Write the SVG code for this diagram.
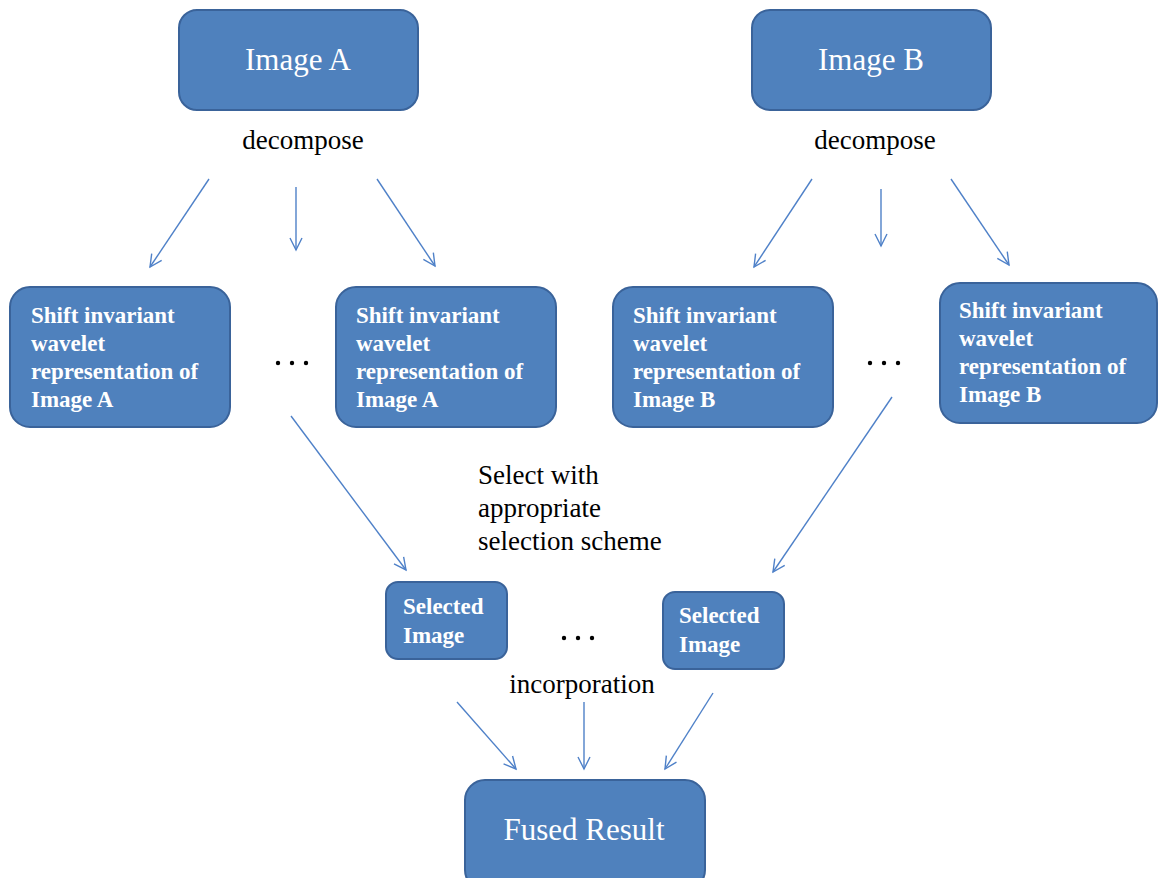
<svg xmlns="http://www.w3.org/2000/svg" width="1158" height="878" viewBox="0 0 1158 878">
<defs>
<style>
.box{fill:#4f81bd;stroke:#3a639a;stroke-width:2}
.big{font-family:"Liberation Serif","Times New Roman",serif;font-size:31px;fill:#fff;text-anchor:middle}
.wt{font-family:"Liberation Serif","Times New Roman",serif;font-size:23px;font-weight:bold;fill:#fff}
.lbl{font-family:"Liberation Serif","Times New Roman",serif;font-size:27px;fill:#000}
.conn{fill:none;stroke:#4f81c8;stroke-width:1.4;marker-end:url(#ah)}
.dot{fill:#000}
</style>
<marker id="ah" markerWidth="16" markerHeight="16" viewBox="-14 -8 16 16" refX="0" refY="0" orient="auto" markerUnits="userSpaceOnUse">
<path d="M-12,-6 L0,0 L-12,6" fill="none" stroke="#4f81c8" stroke-width="1.4"/>
</marker>
</defs>
<rect width="1158" height="878" fill="#fff"/>

<g id="connectors">
<line class="conn" x1="209" y1="179" x2="150" y2="267"/>
<line class="conn" x1="296" y1="187" x2="296" y2="250"/>
<line class="conn" x1="377" y1="179" x2="435" y2="266"/>
<line class="conn" x1="812" y1="179" x2="754" y2="267"/>
<line class="conn" x1="881" y1="189" x2="881" y2="246"/>
<line class="conn" x1="951" y1="179" x2="1009" y2="265"/>
<line class="conn" x1="291" y1="416" x2="406" y2="570"/>
<line class="conn" x1="892" y1="397" x2="773" y2="572"/>
<line class="conn" x1="457" y1="702" x2="516" y2="769"/>
<line class="conn" x1="584" y1="702" x2="584" y2="769"/>
<line class="conn" x1="713" y1="693" x2="665" y2="769"/>
</g>

<g id="imageA">
<rect class="box" x="179" y="10" width="239" height="100" rx="18"/>
<text class="big" x="298" y="70">Image A</text>
</g>
<g id="imageB">
<rect class="box" x="752" y="10" width="239" height="100" rx="18"/>
<text class="big" x="871" y="70">Image B</text>
</g>

<g id="label-decompose-A"><text class="lbl" x="303" y="149" text-anchor="middle">decompose</text></g>
<g id="label-decompose-B"><text class="lbl" x="875" y="149" text-anchor="middle">decompose</text></g>

<g id="swA1">
<rect class="box" x="10" y="287" width="220" height="140" rx="20"/>
<text class="wt"><tspan x="31" y="323">Shift invariant</tspan><tspan x="31" y="351">wavelet</tspan><tspan x="31" y="379">representation of</tspan><tspan x="31" y="407">Image A</tspan></text>
</g>
<g id="swA2">
<rect class="box" x="336" y="287" width="220" height="140" rx="20"/>
<text class="wt"><tspan x="356" y="323">Shift invariant</tspan><tspan x="356" y="351">wavelet</tspan><tspan x="356" y="379">representation of</tspan><tspan x="356" y="407">Image A</tspan></text>
</g>
<g id="swB1">
<rect class="box" x="613" y="287" width="220" height="140" rx="20"/>
<text class="wt"><tspan x="633" y="323">Shift invariant</tspan><tspan x="633" y="351">wavelet</tspan><tspan x="633" y="379">representation of</tspan><tspan x="633" y="407">Image B</tspan></text>
</g>
<g id="swB2">
<rect class="box" x="940" y="283" width="217" height="140" rx="20"/>
<text class="wt"><tspan x="959" y="318">Shift invariant</tspan><tspan x="959" y="346">wavelet</tspan><tspan x="959" y="374">representation of</tspan><tspan x="959" y="402">Image B</tspan></text>
</g>

<g id="dots-A"><circle class="dot" cx="278" cy="363" r="2.2"/><circle class="dot" cx="292" cy="363" r="2.2"/><circle class="dot" cx="306" cy="363" r="2.2"/></g>
<g id="dots-B"><circle class="dot" cx="870" cy="363" r="2.2"/><circle class="dot" cx="884" cy="363" r="2.2"/><circle class="dot" cx="898" cy="363" r="2.2"/></g>

<g id="label-select">
<text class="lbl"><tspan x="478" y="484">Select with</tspan><tspan x="478" y="517">appropriate</tspan><tspan x="478" y="550">selection scheme</tspan></text>
</g>

<g id="sel1">
<rect class="box" x="386" y="582" width="121" height="77" rx="12"/>
<text class="wt"><tspan x="403" y="614">Selected</tspan><tspan x="403" y="643">Image</tspan></text>
</g>
<g id="sel2">
<rect class="box" x="663" y="592" width="121" height="77" rx="12"/>
<text class="wt"><tspan x="679" y="623">Selected</tspan><tspan x="679" y="652">Image</tspan></text>
</g>

<g id="dots-sel"><circle class="dot" cx="564" cy="638" r="2.2"/><circle class="dot" cx="578" cy="638" r="2.2"/><circle class="dot" cx="592" cy="638" r="2.2"/></g>

<g id="label-incorporation"><text class="lbl" x="582" y="693" text-anchor="middle">incorporation</text></g>

<g id="fused">
<rect class="box" x="465" y="780" width="240" height="110" rx="20"/>
<text class="big" x="584" y="840">Fused Result</text>
</g>
</svg>
